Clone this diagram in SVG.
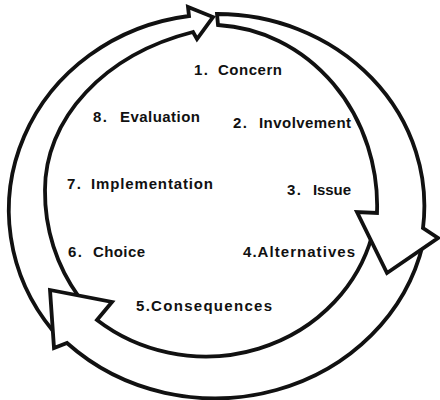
<svg xmlns="http://www.w3.org/2000/svg" width="440" height="400" viewBox="0 0 440 400">
<style>
.arrow{fill:#fff;stroke:#111;stroke-width:3.8;stroke-linejoin:miter;stroke-miterlimit:10}
.lbl{font-family:"Liberation Sans",Arial,sans-serif;font-weight:bold;font-size:15px;fill:#111}
</style>
<rect width="440" height="400" fill="#fff"/>
<g id="connectors">
<path id="arrow3" class="arrow" d="M 53,331 A 208 196 0 0 1 189,16 L 188,7 L 213,17 L 197,39 L 193,32 A 215 166 0 0 0 45,190 A 170 175 0 0 0 79,297 Z"/>
<path id="arrow2" class="arrow" d="M 423,244 A 213 197 0 0 1 67,343 L 54,348 L 50,290 L 112,302 L 97,320 A 172 162 0 0 0 372,236 Z"/>
<path id="arrow1" class="arrow" d="M 217,14 A 207 192 0 0 1 423,228 L 438,238 L 387,273 L 357,212 L 377,213 A 168 181 0 0 0 218,25 Z"/>
</g>
<g id="n1"><text class="lbl" y="75"><tspan x="194" textLength="14">1.</tspan><tspan x="218" textLength="64">Concern</tspan></text></g>
<g id="n2"><text class="lbl" y="128"><tspan x="233" textLength="14">2.</tspan><tspan x="259" textLength="92">Involvement</tspan></text></g>
<g id="n3"><text class="lbl" y="195"><tspan x="287" textLength="14">3.</tspan><tspan x="313" textLength="38">Issue</tspan></text></g>
<g id="n4"><text class="lbl" y="257" x="243" textLength="112">4.Alternatives</text></g>
<g id="n5"><text class="lbl" y="311" x="136" textLength="136">5.Consequences</text></g>
<g id="n6"><text class="lbl" y="257"><tspan x="68" textLength="14">6.</tspan><tspan x="93" textLength="52">Choice</tspan></text></g>
<g id="n7"><text class="lbl" y="189"><tspan x="67" textLength="14">7.</tspan><tspan x="91" textLength="122">Implementation</tspan></text></g>
<g id="n8"><text class="lbl" y="122"><tspan x="93" textLength="14">8.</tspan><tspan x="120" textLength="80">Evaluation</tspan></text></g>
</svg>
